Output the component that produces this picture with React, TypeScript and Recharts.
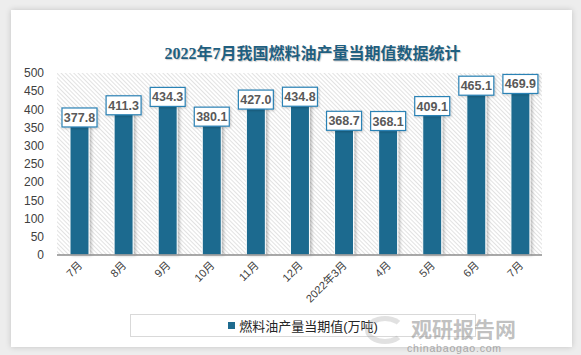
import React from 'react';
import {
  BarChart,
  Bar,
  XAxis,
  YAxis,
  CartesianGrid,
  Legend,
  LabelList,
} from 'recharts';

const months = ['7月', '8月', '9月', '10月', '11月', '12月', '2022年3月', '4月', '5月', '6月', '7月'];
const output = [377.8, 411.3, 434.3, 380.1, 427.0, 434.8, 368.7, 368.1, 409.1, 465.1, 469.9];
const yTicks = [0, 50, 100, 150, 200, 250, 300, 350, 400, 450, 500];

const seriesName = '燃料油产量当期值(万吨)';
const title = '2022年7月我国燃料油产量当期值数据统计';

const BAR_COLOR = '#1e6b8f';
const SANS = '"Liberation Sans", "Noto Sans CJK SC", sans-serif';

const chartData = months.map((m, i) => ({ month: m, value: output[i] }));

function XTick(props: any) {
  const { x, y, payload } = props;
  return (
    <g transform={`translate(${x + 4},${y + 3})`}>
      <text
        x={0}
        y={0}
        textAnchor="end"
        transform="rotate(-45)"
        fontSize={11}
        fontFamily={SANS}
        fill="#404040"
      >
        {payload.value}
      </text>
    </g>
  );
}

function ValueLabel(props: any) {
  const { x, y, width, value } = props;
  const text = Number(value).toFixed(1);
  const w = text.length * 6.4 + 3;
  const h = 19;
  const cx = x + width / 2;
  return (
    <g>
      <rect
        x={cx - w / 2}
        y={y - h / 2}
        width={w}
        height={h}
        fill="#ffffff"
        stroke="#2b82b5"
        strokeWidth={1.2}
        filter="url(#lblShadow)"
      />
      <text
        x={cx}
        y={y + 4.5}
        textAnchor="middle"
        fontSize={12.5}
        fontWeight="bold"
        fontFamily={SANS}
        fill="#595959"
      >
        {text}
      </text>
    </g>
  );
}

function BarShape(props: any) {
  const { x, y, width, height } = props;
  return (
    <rect
      x={x}
      y={y}
      width={width}
      height={height}
      fill={BAR_COLOR}
      stroke="#ffffff"
      strokeWidth={1}
      filter="url(#barShadow)"
    />
  );
}

function LegendBox() {
  return (
    <div
      style={{
        boxSizing: 'border-box',
        height: 23,
        border: '1px solid #d9d9d9',
        display: 'flex',
        alignItems: 'center',
        justifyContent: 'center',
        fontFamily: SANS,
        fontSize: 13,
        color: '#262626',
      }}
    >
      <span style={{ width: 7, height: 7, background: BAR_COLOR, marginRight: 4, display: 'inline-block' }} />
      <span>{seriesName}</span>
    </div>
  );
}

export default function App() {
  return (
    <div style={{ position: 'absolute', left: 0, top: 0, width: 581, height: 355, background: '#ededed', overflow: 'hidden' }}>
      <div
        style={{
          position: 'absolute',
          left: 11,
          top: 10,
          width: 561,
          height: 337,
          background: '#ffffff',
          boxShadow: '0 0 6px rgba(0,0,0,0.18)',
        }}
      />
      <div
        style={{
          position: 'absolute',
          left: 0,
          width: 581,
          top: 40,
          textAlign: 'center',
          paddingLeft: 44,
          boxSizing: 'border-box',
          fontFamily: '"Liberation Serif", "Noto Sans CJK SC", serif',
          fontWeight: 'bold',
          fontSize: 16,
          color: '#1f5f80',
          textShadow: '1px 1px 1px rgba(0,0,0,0.2)',
        }}
      >
        {title}
      </div>
      <div style={{ position: 'absolute', left: 0, top: 0 }}>
        <BarChart width={581} height={355} data={chartData} margin={{ top: 73, right: 39, left: 0, bottom: 18 }}>
          <defs>
            <pattern id="hatch" width="3" height="3" patternUnits="userSpaceOnUse" patternTransform="rotate(-45)">
              <rect width="3" height="3" fill="#ffffff" />
              <line x1="0" y1="0" x2="0" y2="3" stroke="#cfcfcf" strokeWidth="1.2" />
            </pattern>
            <filter id="barShadow" x="-30%" y="-5%" width="160%" height="110%">
              <feDropShadow dx="2" dy="0" stdDeviation="1.5" floodColor="#000" floodOpacity="0.25" />
            </filter>
            <filter id="lblShadow" x="-20%" y="-20%" width="140%" height="150%">
              <feDropShadow dx="1" dy="1" stdDeviation="1" floodColor="#000" floodOpacity="0.2" />
            </filter>
          </defs>
          <CartesianGrid horizontal={false} vertical={false} fill="url(#hatch)" stroke="none" />
          <XAxis
            dataKey="month"
            height={59}
            interval={0}
            tickLine={false}
            axisLine={{ stroke: '#8c8c8c', strokeWidth: 1.5 }}
            tick={<XTick />}
          />
          <YAxis
            width={57}
            domain={[0, 500]}
            ticks={yTicks}
            interval={0}
            axisLine={false}
            tickLine={false}
            tickMargin={7}
            tick={{ fontSize: 12, fill: '#404040', fontFamily: SANS }}
          />
          <Legend
            verticalAlign="bottom"
            content={<LegendBox />}
            wrapperStyle={{ left: 130, width: 346, bottom: 18 }}
          />
          <Bar dataKey="value" name={seriesName} fill={BAR_COLOR} barSize={19} shape={<BarShape />} isAnimationActive={false}>
            <LabelList dataKey="value" content={<ValueLabel />} />
          </Bar>
        </BarChart>
      </div>
      <div
        style={{
          position: 'absolute',
          left: 411,
          top: 317,
          fontFamily: '"Noto Sans CJK SC", sans-serif',
          fontWeight: 'bold',
          fontSize: 21,
          color: 'rgba(140,140,140,0.55)',
          lineHeight: '22px',
        }}
      >
        观研报告网
      </div>
      <div
        style={{
          position: 'absolute',
          left: 407,
          top: 343,
          fontFamily: SANS,
          fontSize: 10.5,
          lineHeight: '11px',
          color: 'rgba(120,120,120,0.6)',
          letterSpacing: 0.8,
        }}
      >
        chinabaogao.com
      </div>
      <div
        style={{
          position: 'absolute',
          left: 365,
          top: 316,
          width: 40,
          height: 28,
          borderRadius: '50%',
          border: '5px solid rgba(170,170,170,0.35)',
          borderRightColor: 'transparent',
          boxSizing: 'border-box',
        }}
      />
    </div>
  );
}
